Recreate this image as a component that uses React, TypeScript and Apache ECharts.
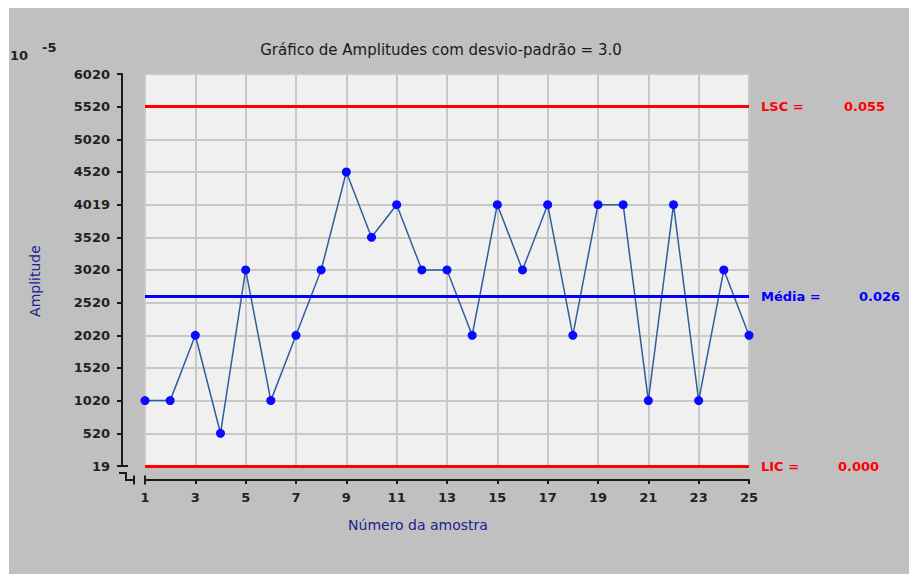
import React, { useEffect, useRef } from "react";
import * as echarts from "echarts";

const samples = [1, 2, 3, 4, 5, 6, 7, 8, 9, 10, 11, 12, 13, 14, 15, 16, 17, 18, 19, 20, 21, 22, 23, 24, 25];
const amplitudes = [1020, 1020, 2020, 520, 3020, 1020, 2020, 3020, 4520, 3520, 4019, 3020, 3020, 2020, 4019, 3020, 4019, 2020, 4019, 4019, 1020, 4019, 1020, 3020, 2020];
const yTicks = [19, 520, 1020, 1520, 2020, 2520, 3020, 3520, 4019, 4520, 5020, 5520, 6020];
const xTicks = [1, 3, 5, 7, 9, 11, 13, 15, 17, 19, 21, 23, 25];
const limitNames = ["LSC =", "Média =", "LIC ="];
const limitValues = [5520, 2616, 19];
const limitLabels = ["0.055", "0.026", "0.000"];

const limitColors = ["#ff0000", "#0000ff", "#ff0000"];
const limitLabelGaps = [83, 98, 77];

const FONT = "DejaVu Sans";

export default function App() {
  const ref = useRef<HTMLDivElement>(null);
  useEffect(() => {
    if (!ref.current) return;
    const chart = echarts.init(ref.current, null, { renderer: "svg" });
    const axisColor = "#1a1a1a";
    const option: any = {
      animation: false,
      backgroundColor: "#c0c0c0",
      title: {
        text: "Gráfico de Amplitudes com desvio-padrão = 3.0",
        left: 432,
        top: 34,
        textAlign: "center",
        padding: 0,
        textStyle: { fontFamily: FONT, fontSize: 15, fontWeight: "normal", color: "#1a1a1a" },
      },
      grid: {
        left: 136,
        right: 168,
        top: 66,
        bottom: 108,
        show: true,
        backgroundColor: "#f0f0f0",
        borderWidth: 0,
      },
      xAxis: {
        type: "value",
        min: 1,
        max: 25,
        offset: 14,
        name: "Número da amostra",
        nameLocation: "middle",
        nameGap: 38,
        nameTextStyle: { fontFamily: FONT, fontSize: 14, color: "#20208f", padding: [0, 58, 0, 0] },
        axisLine: { show: true, lineStyle: { color: axisColor, width: 2 } },
        axisTick: { show: true, customValues: xTicks, length: 4, lineStyle: { color: axisColor, width: 2 } },
        axisLabel: {
          customValues: xTicks,
          margin: 11,
          formatter: (v: number) => String(v),
          fontFamily: FONT,
          fontSize: 13,
          fontWeight: "bold",
          color: "#222",
        },
        splitLine: { show: true, lineStyle: { color: "#c8c8c8", width: 2 } },
      },
      yAxis: {
        type: "value",
        min: 19,
        max: 6020,
        position: "left",
        offset: 23,
        name: "Amplitude",
        nameLocation: "middle",
        nameGap: 80,
        nameTextStyle: { fontFamily: FONT, fontSize: 14, color: "#20208f", padding: [0, 22, 0, 0] },
        axisLine: { show: true, lineStyle: { color: axisColor, width: 2 } },
        axisTick: { show: true, customValues: yTicks, length: 5, lineStyle: { color: axisColor, width: 2 } },
        axisLabel: {
          customValues: yTicks,
          margin: 12,
          formatter: (v: number) => String(v),
          fontFamily: FONT,
          fontSize: 13,
          fontWeight: "bold",
          color: "#222",
        },
        splitLine: { show: true, lineStyle: { color: "#c8c8c8", width: 2 } },
      },
      series: [
        {
          type: "line",
          data: samples.map((s, i) => [s, amplitudes[i]]),
          symbol: "circle",
          symbolSize: 9,
          itemStyle: { color: "#0a0aff" },
          lineStyle: { color: "#2e5f9c", width: 1.5 },
          z: 3,
          markLine: {
            silent: true,
            symbol: ["none", "none"],
            precision: 3,
            data: limitValues.map((v, i) => ({
              yAxis: v,
              lineStyle: { color: limitColors[i], width: 3, type: "solid" },
              label: {
                show: true,
                position: "end",
                distance: 12,
                formatter: `{a|${limitNames[i]}}{b|${limitLabels[i]}}`,
                rich: {
                  a: {
                    width: limitLabelGaps[i],
                    fontFamily: FONT,
                    fontSize: 13,
                    fontWeight: "bold",
                    color: limitColors[i],
                  },
                  b: {
                    fontFamily: FONT,
                    fontSize: 13,
                    fontWeight: "bold",
                    color: limitColors[i],
                  },
                },
              },
            })),
          },
        },
      ],
    };
    chart.setOption(option);

    const p = chart.convertToPixel({ gridIndex: 0 }, [1, 19]) as number[];
    const x0 = p[0];
    const y0 = p[1];
    const ax = x0 - 23;
    const ay = y0 + 14;
    const stroke = { stroke: axisColor, lineWidth: 2 };
    chart.setOption({
      graphic: [
        { type: "line", shape: { x1: ax, y1: y0, x2: ax + 6, y2: y0 }, style: stroke },
        {
          type: "polyline",
          shape: { points: [[ax - 3, y0 + 7], [ax + 4, y0 + 7], [ax + 4, ay], [ax + 12, ay]] },
          style: { ...stroke, fill: null },
        },
        { type: "line", shape: { x1: ax + 12, y1: ay - 4.5, x2: ax + 12, y2: ay + 4.5 }, style: stroke },
        { type: "line", shape: { x1: x0, y1: ay - 4.5, x2: x0, y2: ay + 4.5 }, style: stroke },
        {
          type: "text",
          left: 1,
          top: 41,
          style: { text: "10", fontFamily: FONT, fontSize: 13, fontWeight: "bold", fill: "#222" },
        },
        {
          type: "text",
          left: 33,
          top: 33,
          style: { text: "-5", fontFamily: FONT, fontSize: 13, fontWeight: "bold", fill: "#222" },
        },
      ],
    });

    return () => chart.dispose();
  }, []);
  return <div ref={ref} style={{ width: 908, height: 566, marginLeft: 1 }} />;
}
